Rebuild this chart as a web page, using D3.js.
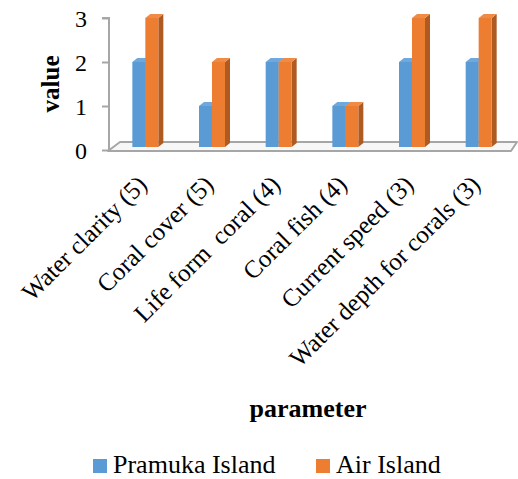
<!DOCTYPE html>
<html>
<head>
<meta charset="utf-8">
<script src="https://cdn.jsdelivr.net/npm/d3@7"></script>
<style>
  html, body { margin: 0; padding: 0; background: #ffffff; }
  svg { display: block; }
</style>
</head>
<body>
<svg id="chart" width="518" height="479"></svg>
<script>
const categories = ["Water clarity (5)", "Coral cover (5)", "Life form  coral (4)", "Coral fish (4)", "Current speed (3)", "Water depth for corals (3)"];
const seriesNames = ["Pramuka Island", "Air Island"];
const pramuka = [2, 1, 2, 1, 2, 2];
const air = [3, 2, 2, 1, 3, 3];
const yTicks = [0, 1, 2, 3];

const FONT = "Liberation Serif";
const colors = {
  "Pramuka Island": { front: "#5B9BD5", top: "#6FA8DD", side: "#41719C" },
  "Air Island": { front: "#ED7D31", top: "#F08B45", side: "#AE5A21" }
};

const svg = d3.select("#chart");

const x = d3.scaleBand().domain(categories).range([112, 512]).paddingInner(0).paddingOuter(0);
const y = d3.scaleLinear().domain([0, 3]).range([150, 18]);
const barW = 13;
const depthX = 5, depthY = -4;
const baseY = 147;

// floor
svg.append("polygon")
  .attr("points", [[108, 151], [120, 142], [517, 142], [511, 151]].map(p => p.join(",")).join(" "))
  .attr("fill", "#f7f7f7")
  .attr("stroke", "#a6a6a6")
  .attr("stroke-width", 2)
  .attr("stroke-linejoin", "round");

// y axis
const yAxis = d3.axisLeft(y).tickValues(yTicks).tickSize(7).tickFormat(d3.format("d"));
const yg = svg.append("g").attr("transform", "translate(109,0)").call(yAxis)
  .attr("font-family", FONT).attr("font-size", 24);
yg.select(".domain").attr("stroke", "#a6a6a6").attr("stroke-width", 2)
  .attr("d", `M-7,${y(3)}H0V${y(0)+1}`);
yg.selectAll(".tick line").attr("stroke", "#a6a6a6").attr("stroke-width", 2);
yg.selectAll(".tick text")
  .attr("x", -22)
  .attr("dy", "0.34em")
  .attr("font-family", FONT)
  .attr("font-size", 24)
  .attr("fill", "#000");

// bars
const data = categories.map((c, i) => ({ cat: c, vals: [
  { s: seriesNames[0], v: pramuka[i], k: 0 },
  { s: seriesNames[1], v: air[i], k: 1 }
]}));

const groups = svg.append("g").selectAll("g").data(data).join("g");
groups.each(function(d) {
  const g = d3.select(this);
  const cx = x(d.cat) + x.bandwidth() / 2;
  d.vals.forEach(b => {
    const x0 = cx - barW + b.k * barW;
    const x1 = x0 + barW;
    const yt = y(b.v);
    const col = colors[b.s];
    g.append("polygon")
      .attr("points", [[x1, yt], [x1 + depthX, yt + depthY], [x1 + depthX, baseY + depthY], [x1, baseY]].map(p => p.join(",")).join(" "))
      .attr("fill", col.side);
    g.append("polygon")
      .attr("points", [[x0, yt], [x0 + depthX, yt + depthY], [x1 + depthX, yt + depthY], [x1, yt]].map(p => p.join(",")).join(" "))
      .attr("fill", col.top);
    g.append("rect")
      .attr("x", x0).attr("y", yt)
      .attr("width", barW).attr("height", baseY - yt)
      .attr("fill", col.front);
  });
});

// category labels
svg.append("g").selectAll("text").data(categories).join("text")
  .attr("transform", d => `translate(${x(d) + x.bandwidth() / 2 + 3},186) rotate(-45)`)
  .attr("text-anchor", "end")
  .attr("font-family", FONT)
  .attr("font-size", 25)
  .style("white-space", "pre")
  .text(d => d);

// axis titles
svg.append("text")
  .attr("transform", "translate(59,84) rotate(-90)")
  .attr("text-anchor", "middle")
  .attr("font-family", FONT)
  .attr("font-size", 25)
  .attr("font-weight", "bold")
  .text("value");

svg.append("text")
  .attr("x", 308).attr("y", 417)
  .attr("text-anchor", "middle")
  .attr("font-family", FONT)
  .attr("font-size", 26)
  .attr("font-weight", "bold")
  .text("parameter");

// legend
const legendX = [93, 316];
const lg = svg.append("g").selectAll("g").data(seriesNames).join("g")
  .attr("transform", (d, i) => `translate(${legendX[i]},459)`);
lg.append("rect").attr("width", 14).attr("height", 14).attr("fill", d => colors[d].front);
lg.append("text").attr("x", 20).attr("y", 14)
  .attr("font-family", FONT).attr("font-size", 26).attr("fill", "#000")
  .text(d => d);
</script>
</body>
</html>
